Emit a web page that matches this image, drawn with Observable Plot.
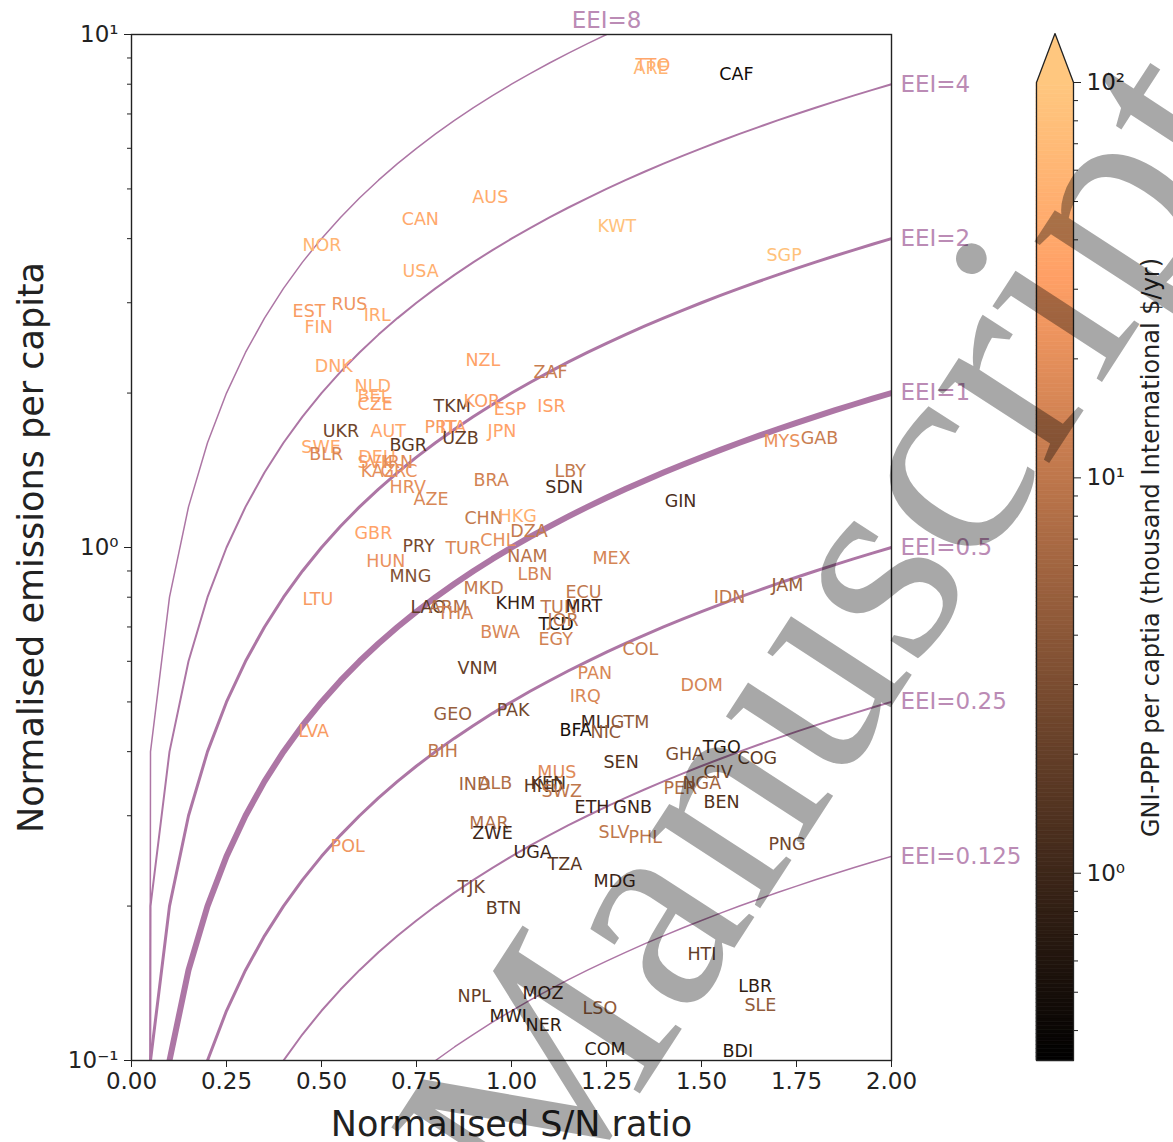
<!DOCTYPE html>
<html><head><meta charset="utf-8">
<script src="https://cdn.jsdelivr.net/npm/d3@7"></script>
<script src="https://cdn.jsdelivr.net/npm/@observablehq/plot@0.6"></script>
<style>
html,body{margin:0;padding:0;background:#fff;}
#wrap{position:relative;width:1173px;height:1142px;overflow:hidden;font-family:"DejaVu Sans",sans-serif;background:#fff;}
#main{position:absolute;left:0;top:0;}
#cbar{position:absolute;left:1030px;top:0;}
#wm{position:absolute;left:0;top:0;pointer-events:none;}
</style></head><body>
<div id="wrap"><div id="main"></div><div id="cbar"></div>
<svg id="wm" width="1173" height="1142"><text transform="translate(546,1238) rotate(-57)" font-family="Liberation Serif" font-size="290" fill="#000" fill-opacity="0.34">Manuscript</text></svg>
</div>
<script>
// ---------- data ----------
const codes = ["TTO","ARE","CAF","AUS","CAN","NOR","USA","KWT","SGP","EST","RUS","IRL","FIN","DNK","NZL","ZAF","NLD","BEL","CZE","TKM","KOR","ESP","ISR","UKR","AUT","PRT","ITA","JPN","BGR","UZB","SWE","BLR","DEU","SVK","IRN","KAZ","GRC","HRV","AZE","BRA","LBY","SDN","GIN","MYS","GAB","CHN","HKG","DZA","CHL","GBR","PRY","TUR","NAM","HUN","MNG","LBN","MEX","IDN","JAM","LTU","MKD","ECU","LAO","ARM","THA","KHM","TUN","MRT","TCD","JOR","BWA","EGY","COL","VNM","PAN","DOM","IRQ","GEO","PAK","LVA","BFA","MLI","GTM","NIC","BIH","SEN","GHA","TGO","COG","CIV","NGA","PER","BEN","MUS","IND","ALB","HND","KEN","SWZ","ETH","GNB","MAR","ZWE","SLV","PHL","PNG","UGA","TZA","MDG","TJK","BTN","HTI","LBR","SLE","NPL","MOZ","MWI","NER","LSO","COM","BDI","POL"];
const snr = [1.326,1.321,1.547,0.897,0.711,0.450,0.713,1.226,1.671,0.424,0.526,0.611,0.455,0.482,0.879,1.058,0.587,0.595,0.595,0.795,0.874,0.953,1.068,0.503,0.629,0.771,0.811,0.937,0.679,0.818,0.447,0.468,0.597,0.595,0.661,0.603,0.655,0.679,0.742,0.900,1.113,1.089,1.403,1.663,1.761,0.876,0.966,0.997,0.918,0.587,0.713,0.826,0.989,0.618,0.679,1.016,1.213,1.532,1.684,0.450,0.874,1.142,0.734,0.782,0.805,0.958,1.076,1.142,1.071,1.095,0.918,1.071,1.292,0.858,1.174,1.445,1.153,0.795,0.961,0.439,1.126,1.182,1.261,1.208,0.779,1.242,1.405,1.503,1.595,1.505,1.450,1.400,1.505,1.068,0.861,0.913,1.032,1.050,1.079,1.166,1.268,0.889,0.897,1.229,1.308,1.676,1.005,1.095,1.216,0.858,0.932,1.463,1.597,1.613,0.858,1.029,0.942,1.037,1.187,1.192,1.555,0.524];
const emis = [8.47,8.39,8.17,4.70,4.25,3.79,3.37,4.13,3.61,2.81,2.91,2.76,2.62,2.20,2.26,2.14,2.01,1.92,1.85,1.84,1.88,1.81,1.84,1.64,1.64,1.67,1.67,1.64,1.54,1.59,1.53,1.48,1.46,1.43,1.43,1.37,1.37,1.28,1.21,1.32,1.37,1.28,1.20,1.57,1.59,1.11,1.12,1.046,1.009,1.04,0.978,0.973,0.935,0.918,0.858,0.866,0.927,0.781,0.821,0.774,0.813,0.796,0.744,0.744,0.727,0.760,0.744,0.747,0.689,0.702,0.665,0.647,0.616,0.566,0.553,0.524,0.499,0.462,0.470,0.428,0.430,0.444,0.444,0.426,0.390,0.371,0.385,0.398,0.379,0.355,0.339,0.331,0.311,0.356,0.337,0.339,0.333,0.339,0.326,0.304,0.304,0.283,0.270,0.272,0.265,0.257,0.248,0.235,0.218,0.212,0.193,0.157,0.136,0.1246,0.130,0.132,0.1186,0.1144,0.123,0.1023,0.1014,0.255];
const gni = [40,60,0.45,45,42,60,50,85,85,28,24,45,38,45,35,12,45,42,30,2.0,30,32,32,2.5,40,28,32,36,1.6,2.0,42,16,42,26,18,20,22,20,16,14,11,1.2,1.3,22,12,11,50,11,20,36,2.8,16,9,22,3.5,15,15,10,5,28,11,10.5,1.8,8,14,0.9,10.5,0.9,0.6,10,16,14,12,2.0,16,15,16,5,2.6,28,0.5,1.1,4.4,4.4,10,1.4,3.0,0.7,1.7,3.0,6,8,1.4,18,6,8,1.8,1.4,10,0.95,0.95,8,1.0,10,10,2.5,1.0,1.6,1.0,2.6,1.8,1.9,0.8,4.5,2.0,1.0,0.8,0.8,4.5,0.8,0.67,24];

const eeiLevels = [0.125, 0.25, 0.5, 1, 2, 4, 8];
const xTicks = [0, 0.25, 0.5, 0.75, 1, 1.25, 1.5, 1.75, 2];
const yTicks = [0.1, 1, 10];
const cbTicks = [1, 10, 100];
const gniDomain = [0.336, 100];
const xLabel = "Normalised S/N ratio";
const yLabel = "Normalised emissions per capita";
const cLabel = "GNI-PPP per captia (thousand International $/yr)";

// ---------- helpers ----------
function copper(t) {
  t = Math.max(0, Math.min(1, t));
  return d3.rgb(255 * Math.min(1, 1.25 * t), 255 * 0.7812 * t, 255 * 0.4975 * t).formatHex();
}
const supMap = {"-": "\u207B", "0": "\u2070", "1": "\u00B9", "2": "\u00B2", "3": "\u00B3"};
const sup = d => "10" + String(Math.round(Math.log10(d))).split("").map(c => supMap[c]).join("");
const minorTicks = (lo, hi) => d3.range(lo, hi).flatMap(p => d3.range(2, 10).map(m => +(m * Math.pow(10, p)).toPrecision(3)));

const countries = codes.map((c, i) => ({code: c, x: snr[i], y: emis[i], gni: gni[i]}));
const xs = d3.range(0, 41).map(i => i * 0.05);
const curves = eeiLevels.map(e => xs.map(x => ({e, x, y: Math.max(e * x, 1e-30)})));

const ink = "#222222";
const lineColor = "#ad76a5";
const labelColor = "#bb8bb5";
const font = "DejaVu Sans";

// ---------- main chart ----------
const main = Plot.plot({
  width: 1030, height: 1142,
  marginLeft: 131, marginRight: 139, marginTop: 34, marginBottom: 82,
  style: {fontFamily: font, background: "transparent", color: ink, overflow: "visible"},
  x: {domain: [0, 2]},
  y: {type: "log", domain: [0.1, 10]},
  color: {type: "log", domain: gniDomain, interpolate: copper},
  marks: [
    ...curves.map(c => Plot.line(c, {x: "x", y: "y", stroke: lineColor, strokeWidth: 6 / (1 + Math.abs(Math.log2(c[0].e))), clip: true})),
    Plot.text(countries, {x: "x", y: "y", text: "code", fill: "gni", fontSize: 17.5, textAnchor: "start", lineAnchor: "bottom"}),
    Plot.text(eeiLevels.filter(e => 2 * e <= 10), {x: 2, y: e => 2 * e, text: e => `EEI=${e}`, dx: 9, textAnchor: "start", lineAnchor: "middle", fill: labelColor, fontSize: 23}),
    Plot.text(eeiLevels.filter(e => 2 * e > 10), {x: e => 10 / e, y: 10, text: e => `EEI=${e}`, dy: -14, textAnchor: "middle", lineAnchor: "middle", fill: labelColor, fontSize: 23}),
    Plot.axisX({ticks: xTicks, tickFormat: d => d.toFixed(2), tickSize: 7, tickPadding: 5, fontSize: 23, label: null}),
    Plot.axisY({ticks: yTicks, tickFormat: sup, tickSize: 7, tickPadding: 6, fontSize: 23, label: null}),
    Plot.axisY({ticks: minorTicks(-1, 1), tickSize: 4, tickFormat: () => "", label: null}),
    Plot.frame({stroke: ink, strokeWidth: 1.4}),
    Plot.text([xLabel], {frameAnchor: "bottom", lineAnchor: "middle", dy: 64, fontSize: 35, fill: ink}),
    Plot.text([yLabel], {frameAnchor: "left", rotate: -90, textAnchor: "middle", lineAnchor: "middle", dx: -100, fontSize: 35, fill: ink})
  ]
});
document.getElementById("main").appendChild(main);

// ---------- colorbar ----------
const [vmin, vmax] = gniDomain;
const nSteps = 256;
const steps = d3.range(nSteps).map(i => [vmin * Math.pow(vmax / vmin, i / nSteps), vmin * Math.pow(vmax / vmin, (i + 1) / nSteps)]);
const tip = vmax * Math.pow(vmax / vmin, 0.05);
const cb = Plot.plot({
  width: 143, height: 1142,
  marginLeft: 6, marginRight: 100, marginTop: 82, marginBottom: 82,
  style: {fontFamily: font, background: "transparent", color: ink, overflow: "visible"},
  x: {domain: [0, 1], axis: null},
  y: {type: "log", domain: gniDomain},
  color: {type: "log", domain: gniDomain, interpolate: copper},
  marks: [
    Plot.rect(steps, {x1: 0, x2: 1, y1: d => d[0], y2: d => d[1], fill: d => Math.sqrt(d[0] * d[1]), stroke: d => Math.sqrt(d[0] * d[1]), strokeWidth: 0.6}),
    Plot.line([{x: 0, y: vmax}, {x: 0.5, y: tip}, {x: 1, y: vmax}], {x: "x", y: "y", fill: copper(1), stroke: "none"}),
    Plot.line([{x: 0, y: vmin}, {x: 0, y: vmax}, {x: 0.5, y: tip}, {x: 1, y: vmax}, {x: 1, y: vmin}, {x: 0, y: vmin}], {x: "x", y: "y", stroke: ink, strokeWidth: 1.3}),
    Plot.axisY({anchor: "right", ticks: cbTicks, tickFormat: sup, tickSize: 7, tickPadding: 6, fontSize: 23, label: null}),
    Plot.axisY({anchor: "right", ticks: minorTicks(-1, 2).filter(v => v >= vmin), tickSize: 4, tickFormat: () => "", label: null}),
    Plot.text([cLabel], {frameAnchor: "right", rotate: -90, textAnchor: "middle", lineAnchor: "middle", dx: 78, dy: -24, fontSize: 24, fill: ink})
  ]
});
document.getElementById("cbar").appendChild(cb);
</script>
</body></html>
